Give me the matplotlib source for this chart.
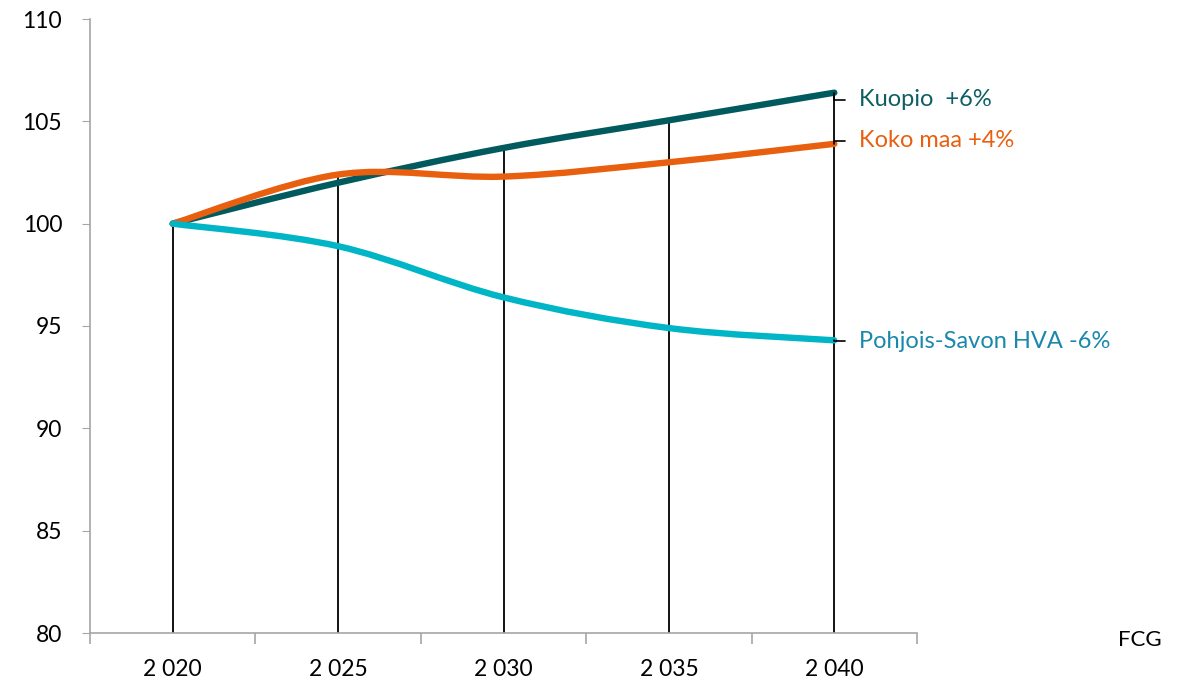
import matplotlib.pyplot as plt
from matplotlib.path import Path
from matplotlib.patches import PathPatch

plt.rcParams['font.family'] = ['Lato', 'DejaVu Sans']

years = ['2 020', '2 025', '2 030', '2 035', '2 040']
kuopio = [100, 102.0, 103.7, 105.05, 106.4]
koko_maa = [100, 102.4, 102.3, 103.0, 103.9]
pohjois_savo = [100, 98.9, 96.4, 94.9, 94.3]

labels = ['Kuopio  +6%', 'Koko maa +4%', 'Pohjois-Savon HVA -6%']
line_colors = ['#005a5e', '#e8600f', '#00b5c6']
text_colors = ['#0d5f63', '#e8600f', '#1a87ad']
label_y = [106.05, 104.05, 94.25]


def smooth_path(xs, ys):
    # Excel style smoothed line: Catmull-Rom converted to cubic bezier
    pts = list(zip(xs, ys))
    verts = [pts[0]]
    codes = [Path.MOVETO]
    n = len(pts)
    for i in range(n - 1):
        p0 = pts[i - 1] if i > 0 else pts[i]
        p1 = pts[i]
        p2 = pts[i + 1]
        p3 = pts[i + 2] if i + 2 < n else pts[i + 1]
        c1 = (p1[0] + (p2[0] - p0[0]) / 6, p1[1] + (p2[1] - p0[1]) / 6)
        c2 = (p2[0] - (p3[0] - p1[0]) / 6, p2[1] - (p3[1] - p1[1]) / 6)
        verts += [c1, c2, p2]
        codes += [Path.CURVE4] * 3
    return Path(verts, codes)


fig = plt.figure(figsize=(11.78, 6.81), dpi=100)
ax = fig.add_axes([90 / 1178, 48 / 681, 827 / 1178, 614 / 681])

x = list(range(len(years)))
series = [kuopio, koko_maa, pohjois_savo]

# drop lines
for i in x:
    top = max(s[i] for s in series)
    ax.plot([i, i], [80, top], color='black', lw=1.3, zorder=1)

for s, c in zip(series, line_colors):
    ax.add_patch(PathPatch(smooth_path(x, s), facecolor='none', edgecolor=c,
                           lw=4.6, capstyle='round', zorder=3))

for s, lab, tc, ly in zip(series, labels, text_colors, label_y):
    ax.annotate(lab, xy=(4, s[-1]), xytext=(4.15, ly), color=tc, fontsize=17,
                va='center', ha='left',
                arrowprops=dict(arrowstyle='-', color='black', lw=1.2,
                                shrinkA=8, shrinkB=0,
                                connectionstyle='angle,angleA=0,angleB=90,rad=0'),
                annotation_clip=False)

ax.set_xlim(-0.5, 4.5)
ax.set_ylim(80, 110)
ax.set_yticks([80, 85, 90, 95, 100, 105, 110])
ax.tick_params(axis='y', labelsize=16.5, length=6, color='#a6a6a6', pad=14)
ax.set_xticks(x)
ax.set_xticklabels(years)
ax.set_xticks([-0.5, 0.5, 1.5, 2.5, 3.5, 4.5], minor=True)
ax.tick_params(axis='x', which='major', length=0, labelsize=16.5, pad=19)
ax.tick_params(axis='x', which='minor', length=8, color='#a6a6a6', width=1.2)

for sp in ['top', 'right']:
    ax.spines[sp].set_visible(False)
for sp in ['left', 'bottom']:
    ax.spines[sp].set_color('#a6a6a6')
    ax.spines[sp].set_linewidth(1.2)

fig.text(1140 / 1178, 1 - 640 / 681, 'FCG', fontsize=16, ha='center', va='center')

fig.savefig('out.png', dpi=100)
